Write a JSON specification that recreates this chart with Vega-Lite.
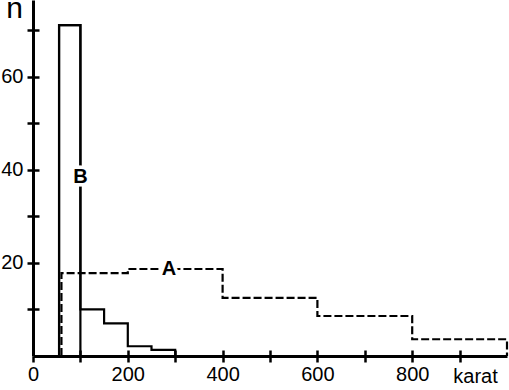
{
  "$schema": "https://vega.github.io/schema/vega-lite/v6.json",
  "width": 474,
  "height": 356,
  "autosize": {"type": "none"},
  "padding": {"left": 33, "top": 0, "right": 2, "bottom": 34},
  "background": "white",
  "config": {
    "view": {"stroke": null},
    "font": "Liberation Sans",
    "axis": {
      "domainColor": "black",
      "tickColor": "black",
      "labelColor": "black",
      "titleColor": "black",
      "grid": false,
      "domainWidth": 3,
      "tickWidth": 2.5,
      "tickSize": 6,
      "labelFontSize": 20,
      "labelFont": "Liberation Sans",
      "titleFont": "Liberation Sans",
      "titleFontWeight": "normal",
      "labelOverlap": false,
      "labelFlush": false
    }
  },
  "datasets": {
    "A": [
      {"karat": 60, "n": 0},
      {"karat": 60, "n": 17.8},
      {"karat": 200, "n": 18.7},
      {"karat": 400, "n": 12.5},
      {"karat": 600, "n": 8.6},
      {"karat": 800, "n": 3.6},
      {"karat": 1000, "n": 0}
    ],
    "B": [
      {"karat": 55, "n": 0},
      {"karat": 55, "n": 71.1},
      {"karat": 100, "n": 10},
      {"karat": 150, "n": 7},
      {"karat": 200, "n": 2.1},
      {"karat": 250, "n": 1.3},
      {"karat": 300, "n": 0}
    ],
    "Bbar": [{"x1": 55, "x2": 100, "n": 71.1}],
    "labels": [
      {"karat": 100, "n": 38.5, "text": "B"},
      {"karat": 287, "n": 18.7, "text": "A"}
    ]
  },
  "resolve": {"axis": {"x": "independent", "y": "independent"}},
  "layer": [
    {
      "data": {"name": "B"},
      "mark": {"type": "line", "interpolate": "step-after", "color": "black", "strokeWidth": 2.2},
      "encoding": {
        "x": {
          "field": "karat", "type": "quantitative",
          "scale": {"domain": [0, 1000], "nice": false, "zero": true},
          "axis": {
            "orient": "bottom",
            "values": [0, 100, 200, 300, 400, 500, 600, 700, 800, 900],
            "labelExpr": "datum.value % 200 === 0 ? datum.label : ''",
            "labelPadding": 2,
            "title": "karat",
            "titleFontSize": 20,
            "titleX": 442,
            "titleY": 26,
            "titleAlign": "center",
            "titleBaseline": "alphabetic"
          }
        },
        "y": {
          "field": "n", "type": "quantitative",
          "scale": {"domain": [0, 76.5], "nice": false},
          "axis": {
            "orient": "left",
            "values": [10, 20, 30, 40, 50, 60, 70],
            "labelExpr": "datum.value % 20 === 0 ? datum.label : ''",
            "labelPadding": 4,
            "title": "n",
            "titleAngle": 0,
            "titleFontSize": 30,
            "titleX": -19,
            "titleY": 17,
            "titleAlign": "center",
            "titleBaseline": "alphabetic"
          }
        },
        "order": {"value": null}
      }
    },
    {
      "data": {"name": "Bbar"},
      "mark": {"type": "rect", "fill": null, "fillOpacity": 0, "stroke": "black", "strokeWidth": 2.2},
      "encoding": {
        "x": {"field": "x1", "type": "quantitative", "axis": null},
        "x2": {"field": "x2"},
        "y": {"field": "n", "type": "quantitative", "axis": null},
        "y2": {"datum": 0}
      }
    },
    {
      "data": {"name": "A"},
      "mark": {"type": "line", "interpolate": "step-after", "color": "black", "strokeWidth": 2.2, "strokeDash": [8, 3]},
      "encoding": {
        "x": {
          "field": "karat", "type": "quantitative",
          "axis": {
            "orient": "bottom", "offset": -6, "domain": false, "labels": false, "title": null,
            "values": [100, 200, 300, 400, 500, 600, 700, 800, 900], "tickSize": 6
          }
        },
        "y": {
          "field": "n", "type": "quantitative",
          "axis": {
            "orient": "left", "offset": -6, "domain": false, "labels": false, "title": null,
            "values": [10, 20, 30, 40, 50, 60, 70], "tickSize": 6
          }
        },
        "order": {"value": null}
      }
    },
    {
      "data": {"name": "labels"},
      "mark": {"type": "text", "fontSize": 20, "fontWeight": "bold", "font": "Liberation Sans", "stroke": "white", "strokeWidth": 7, "fill": "white", "baseline": "middle", "align": "center"},
      "encoding": {
        "x": {"field": "karat", "type": "quantitative", "axis": null},
        "y": {"field": "n", "type": "quantitative", "axis": null},
        "text": {"field": "text"}
      }
    },
    {
      "data": {"name": "labels"},
      "mark": {"type": "text", "fontSize": 20, "fontWeight": "bold", "font": "Liberation Sans", "fill": "black", "baseline": "middle", "align": "center"},
      "encoding": {
        "x": {"field": "karat", "type": "quantitative", "axis": null},
        "y": {"field": "n", "type": "quantitative", "axis": null},
        "text": {"field": "text"}
      }
    }
  ]
}
